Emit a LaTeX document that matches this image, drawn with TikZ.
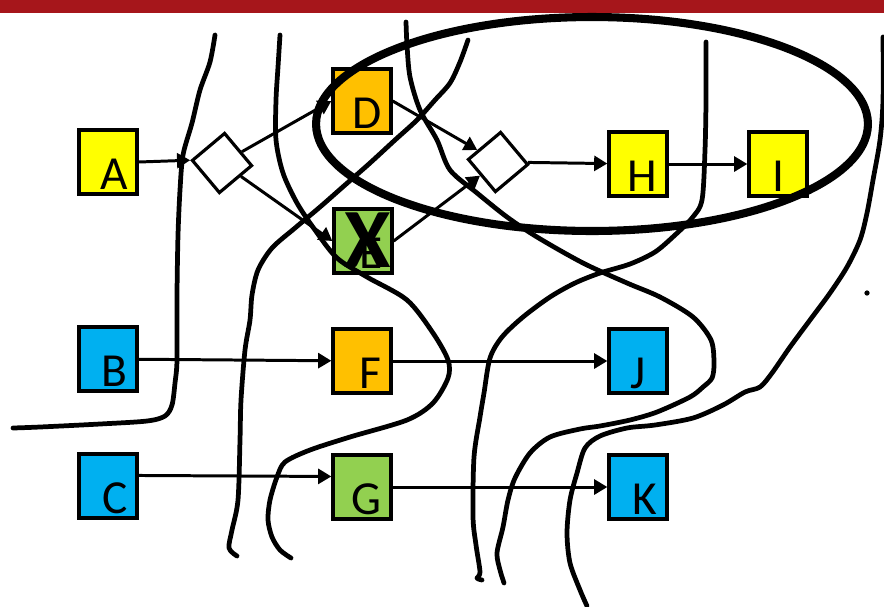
\documentclass[tikz,border=0pt]{standalone}
\usepackage{fontspec}
\setmainfont{Carlito}
\definecolor{taskyellow}{HTML}{FFFF00}
\definecolor{taskorange}{HTML}{FFC000}
\definecolor{taskgreen}{HTML}{92D050}
\definecolor{taskblue}{HTML}{00B0F0}
\definecolor{slidered}{HTML}{A6161B}
\usetikzlibrary{arrows.meta}

\begin{document}
\begin{tikzpicture}[x=0.02cm,y=-0.02cm,
  task/.style={draw,fill=#1,line width=1.9pt,inner sep=0pt,
               minimum width=1.16cm,minimum height=1.28cm,
               text width=0.78cm,align=right,text height=1.08cm,text depth=0pt,
               font=\fontsize{27}{27}\selectfont},
  gate/.style={draw,fill=white,line width=1.8pt,inner sep=0pt,
               minimum size=0.84cm,rotate=40},
  arrow/.style={-{Triangle[length=7.5pt,width=8.5pt]},line width=1.7pt},
  veto/.style={font=\fontsize{48}{48}\selectfont\bfseries,inner sep=0pt},
  ring/.style={line width=4.6pt},
  cut/.style={line width=2.7pt,line cap=round,line join=round}
]
\useasboundingbox (0,0) rectangle (884,606);
\fill[slidered] (0,0) rectangle (884,13);

\node[task=taskyellow] (A) at (108,162) {A};
\node[task=taskblue] (B) at (108,359) {B};
\node[task=taskblue] (C) at (108,486) {C};
\node[task=taskorange] (D) at (362,101) {D};
\node[task=taskgreen] (E) at (363,241) {E};
\node[task=taskorange] (F) at (362,361) {F};
\node[task=taskgreen] (G) at (362,487) {G};
\node[task=taskyellow] (H) at (638,164) {H};
\node[task=taskyellow,align=center] (I) at (778,164) {I};
\node[task=taskblue,align=center] (J) at (638,361) {J};
\node[task=taskblue] (K) at (638,487) {K};
\node[gate] (split) at (222,163) {};
\node[gate] (join) at (498,162) {};

\draw[arrow] (A.east) -- (split.north west);
\draw[arrow] (split) -- (D.west);
\draw[arrow] (split) -- (E.west);
\draw[arrow] (D.east) -- (join);
\draw[arrow] (E.east) -- (join);
\draw[arrow] (join) -- (H);
\draw[arrow] (H) -- (I);
\draw[arrow] (B) -- (F);
\draw[arrow] (F) -- (J);
\draw[arrow] ([yshift=6pt]C.east) -- ([yshift=6pt]G.west);
\draw[arrow] (G) -- (K);

\node[veto] (no) at (368,240) {X};

\draw[ring] (592,124) ellipse [x radius=5.52cm,y radius=2.14cm];

\draw[cut] plot[smooth,tension=0.5] coordinates {(215,35) (210,62) (200,90) (192,123)
  (183,155) (180,190) (178,235) (177,295) (177,360) (175,383) (172,405) (165,416)
  (147,421) (100,424) (40,427) (13,428)};
\draw[cut] plot[smooth,tension=0.5] coordinates {(280,35) (278,67) (276,100) (276,140)
  (283,173) (297,203) (315,230) (337,258) (367,277) (407,300) (433,333) (448,360)
  (448,378) (433,403) (407,420) (350,437) (310,450) (285,462) (277,477) (270,500)
  (268,520) (272,537) (280,550) (291,558)};
\draw[cut] plot[smooth,tension=0.5] coordinates {(468,40) (460,62) (450,83) (435,100)
  (417,120) (395,140) (370,163) (345,185) (320,207) (295,228) (272,248) (258,270)
  (252,295) (250,320) (245,350) (241,400) (240,440) (238,500) (232,530) (229,548)
  (237,556)};
\draw[cut] plot[smooth,tension=0.5] coordinates {(406,22) (407,45) (410,77) (420,110)
  (437,140) (450,170) (477,193) (507,217) (537,237) (583,263) (627,283) (660,297)
  (693,317) (711,340) (714,363) (712,378) (703,387) (690,397) (657,412) (630,420)
  (600,426) (580,429) (550,437) (530,453) (515,478) (508,500) (503,527) (497,553)
  (500,570) (504,583)};
\draw[cut] plot[smooth,tension=0.5] coordinates {(706,42) (706,100) (705,150) (702,200)
  (692,218) (675,235) (655,252) (630,264) (600,273) (575,283) (550,297) (523,317)
  (502,337) (490,358) (484,393) (480,417) (474,457) (473,517) (476,545) (480,572)
  (477,578) (482,580)};
\draw[cut] plot[smooth,tension=0.5] coordinates {(883,37) (883,100) (880,140) (873,180)
  (867,213) (860,240) (847,267) (830,293) (810,320) (790,347) (772,373) (760,387)
  (745,392) (723,405) (693,418) (655,425) (627,428) (600,436) (585,448) (577,473)
  (570,500) (567,533) (570,563) (580,590) (587,606)};
\fill (867,293) circle [radius=1.5pt];
\end{tikzpicture}
\end{document}
